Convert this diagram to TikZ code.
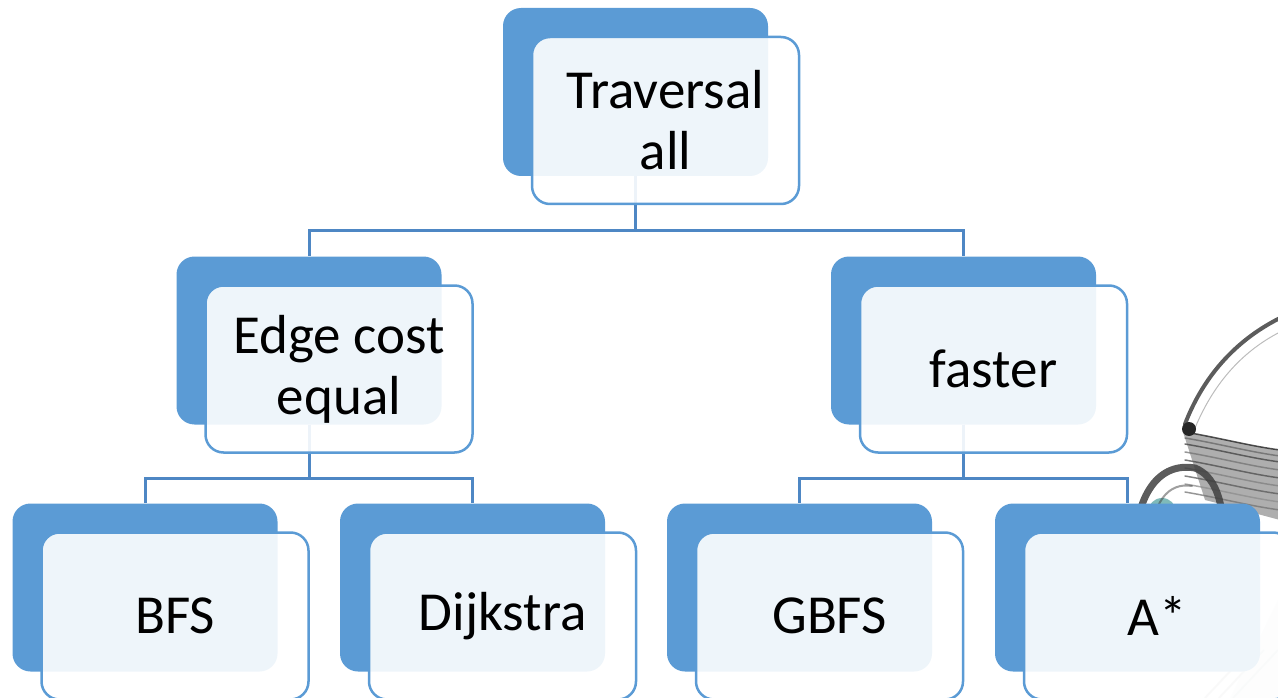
\documentclass[tikz,border=0pt]{standalone}
\usepackage{fontspec}
\setmainfont{Carlito}
\definecolor{boxblue}{HTML}{5B9BD5}
\definecolor{linkblue}{HTML}{4E87C4}
\definecolor{iristeal}{HTML}{5FA9A8}
\tikzset{
	back/.style={fill=boxblue,rounded corners=18pt,minimum width=265pt,minimum height=168pt,inner sep=0pt},
	front/.style={draw=boxblue,line width=2.5pt,fill=white,fill opacity=0.9,text opacity=1,
		rounded corners=18pt,minimum width=267pt,minimum height=167pt,inner sep=0pt,
		align=center,font=\fontsize{55}{61}\selectfont},
	link/.style={draw=linkblue,line width=3pt},
	pencil/.style={draw=black!75,line cap=round,opacity=0.75}
}
\begin{document}
	\begin{tikzpicture}[x=1pt,y=-1pt]
		\useasboundingbox (0,0) rectangle (1278,698);
		% pencil sketch behind the boxes
		\fill[black!45,opacity=0.7] (1183,432) .. controls (1220,438) and (1250,446) .. (1280,450)
		-- (1280,520) .. controls (1250,512) and (1225,505) .. (1205,500) -- cycle;
		\foreach \d/\g in {0/90,6/60,12/75,20/55,28/70,36/50,44/65,52/45,60/55}
		\draw[pencil,draw=black!\g,line width=1.5pt] (1185,432+\d) .. controls (1220,438+\d) and (1250,446+\d) .. (1280,450+\d);
		\draw[pencil,line width=4pt,opacity=0.85] (1185,424) .. controls (1205,372) and (1240,338) .. (1280,318);
		\draw[pencil,line width=1pt,opacity=0.35] (1195,428) .. controls (1215,380) and (1245,350) .. (1280,332);
		\fill[black!85] (1189,429) circle (7);
		\fill[iristeal,opacity=0.8] (1162,512) circle (14);
		\draw[pencil,line width=7pt,opacity=0.85] (1134,560) .. controls (1134,492) and (1160,462) .. (1195,468)
		.. controls (1215,476) and (1222,500) .. (1224,530);
		\draw[pencil,line width=2pt,opacity=0.5] (1150,545) .. controls (1152,502) and (1168,482) .. (1192,486);
		\foreach \s in {0,14,28}
		\draw[black!40,line width=2pt,opacity=0.5] (1205+\s,698) -- (1250+\s,650);
		\fill[iristeal!30,opacity=0.4] (1278,600) -- (1278,698) -- (1230,698) -- cycle;
		
		\foreach \n/\x/\y in {top/635.5/92,edge/309/340.5,fast/963.5/340.5,
			bfs/145/587.5,dijk/472.5/587.5,gbfs/799.5/587.5,astar/1127.5/587.5}
		\node[back] (b-\n) at (\x,\y) {};
		
		\foreach \p/\c in {top/edge,top/fast,edge/bfs,edge/dijk,fast/gbfs,fast/astar}
		\draw[link] (b-\p.south) -- ++(0,54) -| (b-\c.north);
		
		\foreach \n/\t in {top/{Traversal\\all},edge/{Edge cost\\equal},fast/faster,
			bfs/BFS,dijk/Dijkstra,gbfs/GBFS,astar/A*}
		\node[front] (\n) at ([shift={(30,28.5)}]b-\n.center) {\t};
		
	\end{tikzpicture}
\end{document}
